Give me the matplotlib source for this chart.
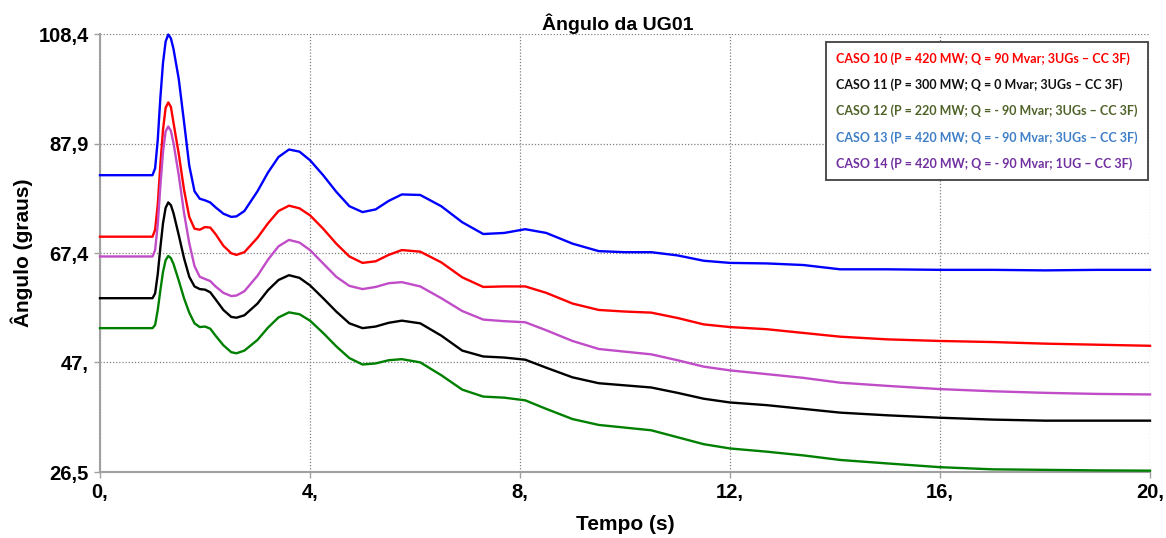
import numpy as np
import matplotlib
matplotlib.use("Agg")
import matplotlib.pyplot as plt

# time axis (s)
tempo = [0, 1.0, 1.05, 1.1, 1.15, 1.2, 1.25, 1.3, 1.35, 1.4,
         1.5, 1.6, 1.7, 1.8, 1.9, 2.0, 2.1, 2.2, 2.35, 2.5,
         2.6, 2.75, 3.0, 3.2, 3.4, 3.6, 3.8, 4.0, 4.25, 4.5,
         4.75, 5.0, 5.25, 5.5, 5.75, 6.1, 6.5, 6.9, 7.3, 7.7,
         8.1, 8.5, 9.0, 9.5, 10.0, 10.5, 11.0, 11.5, 12.0, 12.7,
         13.4, 14.1, 15.0, 16.0, 17.0, 18.0, 19.0, 20.0]

caso10 = [70.5, 70.5, 71.8, 76.5, 84.0, 90.5, 94.6, 95.6, 94.8, 91.8,
          86.0, 79.3, 74.2, 72.0, 71.8, 72.3, 72.2, 71.0, 68.8, 67.4,
          67.1, 67.6, 70.3, 73.0, 75.3, 76.3, 75.8, 74.5, 72.0, 69.2,
          66.8, 65.6, 65.9, 67.1, 68.0, 67.7, 65.7, 62.9, 61.1, 61.2,
          61.2, 60.0, 58.0, 56.8, 56.5, 56.3, 55.3, 54.1, 53.6, 53.2,
          52.5, 51.8, 51.3, 51.0, 50.8, 50.5, 50.3, 50.1]

caso11 = [59.0, 59.0, 59.9, 63.5, 68.5, 73.0, 75.9, 76.9, 76.4, 74.9,
          70.8, 66.5, 63.0, 61.2, 60.7, 60.6, 60.1, 58.8, 56.8, 55.5,
          55.35, 55.8, 58.0, 60.5, 62.4, 63.3, 62.8, 61.4, 59.0, 56.5,
          54.3, 53.4, 53.7, 54.4, 54.8, 54.3, 52.0, 49.2, 48.1, 47.9,
          47.5, 46.0, 44.2, 43.1, 42.7, 42.3, 41.3, 40.2, 39.5, 39.0,
          38.3, 37.6, 37.1, 36.65, 36.3, 36.1, 36.1, 36.1]

caso12 = [53.4, 53.4, 54.0, 56.8, 60.5, 63.9, 66.1, 66.9, 66.5, 65.4,
          62.3, 59.0, 56.3, 54.3, 53.6, 53.7, 53.3, 52.0, 50.2, 48.9,
          48.7, 49.2, 51.2, 53.5, 55.4, 56.35, 56.0, 54.8, 52.5, 50.0,
          47.8, 46.6, 46.8, 47.4, 47.6, 47.0, 44.6, 41.9, 40.6, 40.4,
          39.9, 38.3, 36.4, 35.3, 34.8, 34.3, 33.0, 31.7, 30.9, 30.3,
          29.6, 28.75, 28.1, 27.4, 27.0, 26.9, 26.8, 26.75]

caso13 = [82.0, 82.0, 83.3, 88.6, 96.5, 103.0, 107.0, 108.3, 107.6, 105.6,
          100.0, 92.0, 83.8, 79.0, 77.6, 77.3, 76.9, 76.0, 74.8, 74.2,
          74.3, 75.3, 79.0, 82.5, 85.4, 86.8, 86.4, 84.8, 82.0, 78.9,
          76.2, 75.1, 75.6, 77.2, 78.4, 78.3, 76.2, 73.2, 71.0, 71.2,
          71.9, 71.2, 69.2, 67.8, 67.6, 67.6, 67.0, 66.0, 65.6, 65.5,
          65.2, 64.4, 64.4, 64.3, 64.3, 64.2, 64.3, 64.3]

caso14 = [66.8, 66.8, 68.0, 72.8, 80.0, 86.3, 90.2, 91.1, 90.3, 88.0,
          82.0, 75.0, 69.3, 65.0, 63.0, 62.6, 62.2, 61.2, 60.0, 59.4,
          59.5, 60.3, 63.2, 66.2, 68.7, 69.9, 69.4, 68.0, 65.5, 63.0,
          61.3, 60.7, 61.1, 61.8, 62.0, 61.2, 59.0, 56.6, 55.0, 54.7,
          54.5, 53.0, 51.0, 49.5, 49.0, 48.5, 47.4, 46.2, 45.5, 44.8,
          44.1, 43.2, 42.6, 42.0, 41.6, 41.3, 41.1, 41.0]

rotulos = ["CASO 10 (P = 420 MW; Q = 90 Mvar; 3UGs \u2013 CC 3F)",
           "CASO 11 (P = 300 MW; Q = 0 Mvar; 3UGs \u2013 CC 3F)",
           "CASO 12 (P = 220 MW; Q = - 90 Mvar; 3UGs \u2013 CC 3F)",
           "CASO 13 (P = 420 MW; Q = - 90 Mvar; 3UGs \u2013 CC 3F)",
           "CASO 14 (P = 420 MW; Q = - 90 Mvar; 1UG \u2013 CC 3F)"]

xticks = [0, 4, 8, 12, 16, 20]
xtick_labels = ["0,", "4,", "8,", "12,", "16,", "20,"]
yticks = [26.5, 47.0, 67.4, 87.9, 108.4]
ytick_labels = ["26,5", "47,", "67,4", "87,9", "108,4"]

cores_linha = ["#ff0000", "#000000", "#008000", "#0000ff", "#c04cc8"]
cores_texto = ["#ff0000", "#111111", "#4f6228", "#3f7fc6", "#7030a0"]

plt.rcParams['font.family'] = ['Liberation Sans', 'DejaVu Sans']

fig = plt.figure(figsize=(11.66, 5.38), dpi=100)
ax = fig.add_axes([100/1166, 1 - 472/538, 1050/1166, 438/538])

linhas = []
for serie, cor, rot in zip([caso10, caso11, caso12, caso13, caso14], cores_linha, rotulos):
    l, = ax.plot(tempo, serie, color=cor, lw=1.7, label=rot, clip_on=False,
                 zorder=3, solid_joinstyle='round')
    linhas.append(l)

ax.set_xlim(0, 20)
ax.set_ylim(26.5, 108.4)
ax.set_xticks(xticks)
ax.set_xticklabels(xtick_labels, fontsize=14.5, fontweight='bold')
ax.set_yticks(yticks)
ax.set_yticklabels(ytick_labels, fontsize=14.5, fontweight='bold')
ax.tick_params(axis='both', color='#a0a0a0', length=4, width=1, pad=4)

ax.grid(True, linestyle=(0, (1, 1.5)), color='#808080', lw=0.9)
for s in ['top', 'right']:
    ax.spines[s].set_visible(False)
for s in ['left', 'bottom']:
    ax.spines[s].set_color('#a0a0a0')
    ax.spines[s].set_linewidth(1.5)

ax.set_title("\u00c2ngulo da UG01", fontsize=14, fontweight='bold', pad=3, x=0.493)
ax.set_xlabel("Tempo (s)", fontsize=15, fontweight='bold', labelpad=9)
ax.set_ylabel("\u00c2ngulo (graus)", fontsize=15, fontweight='bold', labelpad=4)

leg = ax.legend(handles=linhas, loc='upper right', bbox_to_anchor=(0.998, 0.982),
                borderaxespad=0, handlelength=0, handletextpad=0,
                labelcolor=cores_texto, fancybox=False, framealpha=1,
                edgecolor='#404040', labelspacing=1.1, borderpad=0.8,
                prop={'family': 'Lato', 'weight': 'bold', 'size': 9.0})
leg.get_frame().set_linewidth(1.3)
for h in leg.legend_handles:
    h.set_visible(False)

fig.savefig("out.png", dpi=100)
